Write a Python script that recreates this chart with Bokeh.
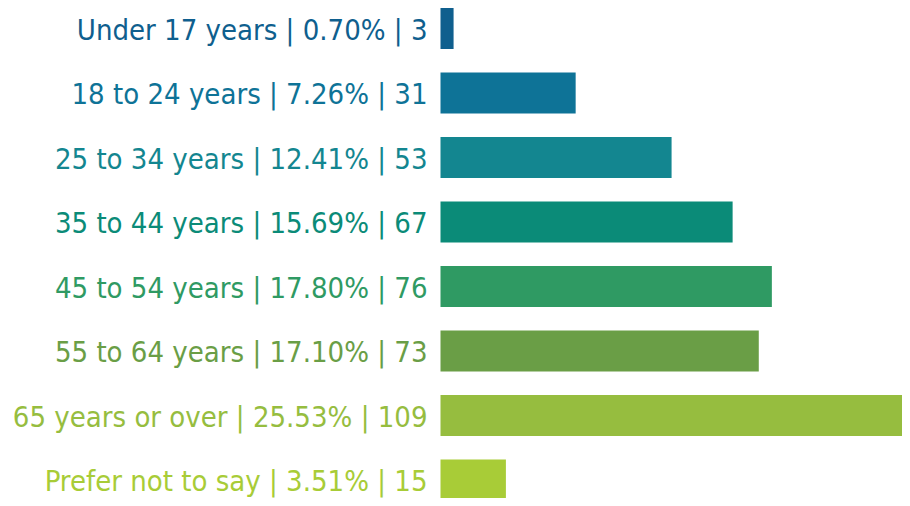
from bokeh.plotting import figure
from bokeh.models import ColumnDataSource, Range1d
from bokeh.core.properties import value
from bokeh.embed import file_html
from bokeh.resources import INLINE

categories = ["Under 17 years", "18 to 24 years", "25 to 34 years", "35 to 44 years",
              "45 to 54 years", "55 to 64 years", "65 years or over", "Prefer not to say"]
percents = ["0.70%", "7.26%", "12.41%", "15.69%", "17.80%", "17.10%", "25.53%", "3.51%"]
counts = [3, 31, 53, 67, 76, 73, 109, 15]
colors = ["#0f5f8e", "#0e7397", "#138690", "#0b8b78", "#2f9a63", "#6a9e46", "#96bd3f", "#a8cc37"]

labels = [f"{c} | {p} | {n}" for c, p, n in zip(categories, percents, counts)]
ypos = list(range(len(categories)))

src = ColumnDataSource(dict(y=ypos, right=counts, color=colors, label=labels, zero=[0] * len(counts)))

W, H = 902, 498
pxu = 4.36
left_px = 440
top_px = 28
step = 64.5
p = figure(width=W, height=H, output_backend="svg", toolbar_location=None,
           x_range=Range1d(-left_px / pxu, (W - left_px) / pxu),
           y_range=Range1d((H - top_px) / step, -top_px / step),
           min_border=0, outline_line_color=None)
p.axis.visible = False
p.grid.visible = False
p.background_fill_color = "white"
p.border_fill_color = "white"

p.hbar(y="y", left=0, right="right", height=41 / step, color="color", source=src, line_color=None)
p.text(x="zero", y="y", text="label", text_color="color", source=src,
       text_align="right", text_baseline="middle", x_offset=-13, y_offset=1,
       text_font=value("DejaVu Sans Condensed"), text_font_size="29px")

open("out.html", "w").write(file_html(p, INLINE))
